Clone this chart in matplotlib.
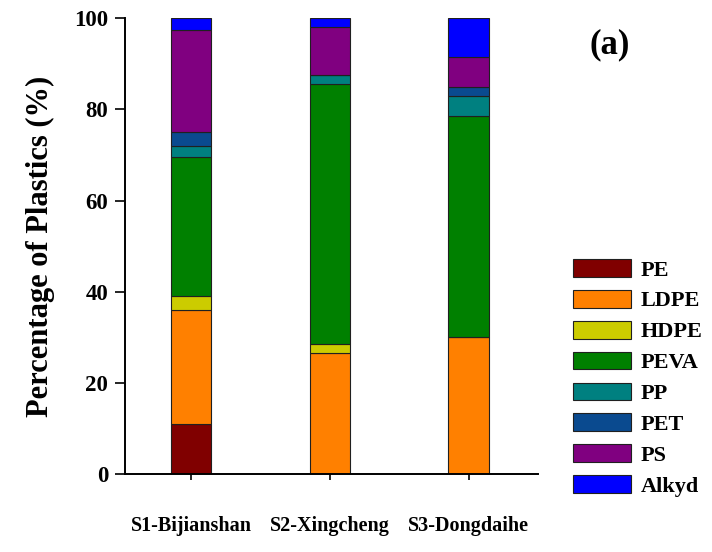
import matplotlib
matplotlib.use("Agg")
import matplotlib.pyplot as plt
import numpy as np

sites = ["S1-Bijianshan", "S2-Xingcheng", "S3-Dongdaihe"]
polymers = ["PE", "LDPE", "HDPE", "PEVA", "PP", "PET", "PS", "Alkyd"]
colors = ["#800000", "#FF8000", "#CCCC00", "#008000", "#008080", "#0A4A8F", "#800080", "#0000FF"]

# percentage of each polymer type per site (stacked, sums to 100)
pe    = [11.0, 0.0, 0.0]
ldpe  = [25.0, 26.5, 30.0]
hdpe  = [3.0, 2.0, 0.0]
peva  = [30.5, 57.0, 48.5]
pp    = [2.5, 2.0, 4.5]
pet   = [3.0, 0.0, 2.0]
ps    = [22.5, 10.5, 6.5]
alkyd = [2.5, 2.0, 8.5]

series = [pe, ldpe, hdpe, peva, pp, pet, ps, alkyd]

plt.rcParams["font.family"] = ["Liberation Serif", "DejaVu Serif"]
plt.rcParams["font.weight"] = "bold"

fig = plt.figure(figsize=(7.12, 5.52), dpi=100)
ax = fig.add_axes([0.1756, 0.141, 0.58, 0.826])

x = np.arange(len(sites))
bottom = np.zeros(len(sites))
for name, vals, c in zip(polymers, series, colors):
    vals = np.array(vals)
    ax.bar(x, vals, width=0.29, bottom=bottom, color=c, edgecolor="#202020",
           linewidth=0.8, label=name)
    bottom += vals

ax.set_xlim(-0.475, 2.5)
ax.set_ylim(0, 100)
ax.set_yticks([0, 20, 40, 60, 80, 100])
ax.set_xticks(x)
ax.set_xticklabels(sites, fontsize=14.5, fontweight="bold")
for lab in ax.get_yticklabels():
    lab.set_fontsize(16.5)
    lab.set_fontweight("bold")
ax.tick_params(axis="y", direction="out", length=7, width=1.2, pad=5)
ax.tick_params(axis="x", direction="out", length=4, width=1.2, pad=26)
ax.spines["top"].set_visible(False)
ax.spines["right"].set_visible(False)
ax.spines["left"].set_linewidth(1.4)
ax.spines["bottom"].set_linewidth(1.4)
ax.set_ylabel("Percentage of Plastics (%)", fontsize=22, fontweight="bold", labelpad=14)

fig.text(0.857, 0.918, "(a)", fontsize=25, fontweight="bold", ha="center", va="center")

fig.legend(loc="lower left", bbox_to_anchor=(0.805, 0.1), frameon=False,
           handlelength=2.6, handleheight=0.85, labelspacing=0.42,
           handletextpad=0.45, borderaxespad=0, borderpad=0,
           prop={"weight": "bold", "size": 16})

fig.savefig("out.png", dpi=100)
